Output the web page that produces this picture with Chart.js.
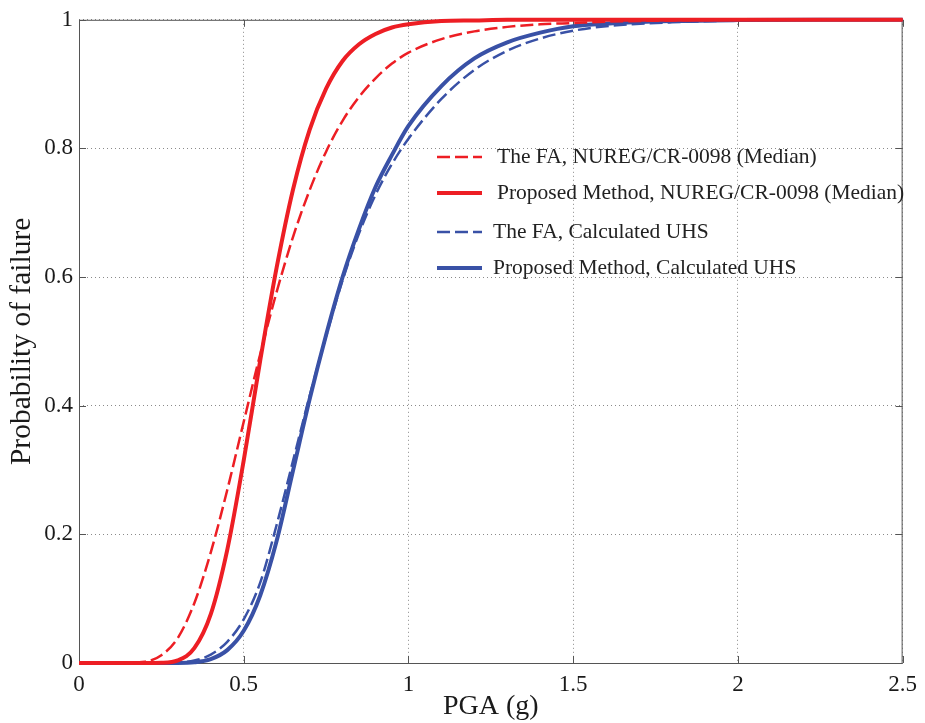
<!DOCTYPE html>
<html>
<head>
<meta charset="utf-8">
<script src="https://cdn.jsdelivr.net/npm/chart.js"></script>
<style>
  body { margin: 0; background: #fff; }
  #wrap { width: 925px; height: 723px; }
</style>
</head>
<body>
<div id="wrap"><canvas id="fragility" width="925" height="723"></canvas></div>
<script>
const pga = [0, 0.1, 0.2, 0.25, 0.3, 0.35, 0.4, 0.45, 0.5, 0.55, 0.6, 0.65, 0.7, 0.75, 0.8,
             0.85, 0.9, 0.95, 1.0, 1.1, 1.2, 1.3, 1.4, 1.5, 1.6, 1.8, 2.0, 2.25, 2.5];

// probability of failure for each curve
const faNureg   = [0, 0, 0.002, 0.012, 0.039, 0.093, 0.172, 0.269, 0.375, 0.48, 0.577, 0.663, 0.735, 0.795, 0.843,
                   0.88, 0.909, 0.932, 0.949, 0.97, 0.982, 0.989, 0.993, 0.995, 0.997, 0.999, 1, 1, 1];
const propNureg = [0, 0, 0, 0.0003, 0.004, 0.023, 0.076, 0.176, 0.315, 0.47, 0.615, 0.737, 0.829, 0.893, 0.936,
                   0.962, 0.978, 0.988, 0.993, 0.998, 0.999, 1, 1, 1, 1, 1, 1, 1, 1];
const faUhs     = [0, 0, 0, 0, 0.001, 0.004, 0.013, 0.033, 0.068, 0.125, 0.215, 0.315, 0.415, 0.508, 0.595,
                   0.668, 0.728, 0.776, 0.815, 0.877, 0.922, 0.952, 0.971, 0.983, 0.99, 0.996, 0.999, 1, 1];
const propUhs   = [0, 0, 0, 0, 0, 0.001, 0.006, 0.02, 0.05, 0.105, 0.19, 0.3, 0.41, 0.51, 0.6,
                   0.675, 0.74, 0.79, 0.835, 0.897, 0.94, 0.965, 0.98, 0.99, 0.994, 0.998, 0.9995, 1, 1];

const seriesNames = ['The FA, NUREG/CR-0098 (Median)', 'Proposed Method, NUREG/CR-0098 (Median)',
                     'The FA, Calculated UHS', 'Proposed Method, Calculated UHS'];
const xTicks = [0, 0.5, 1, 1.5, 2, 2.5];
const yTicks = [0, 0.2, 0.4, 0.6, 0.8, 1];

const RED = 'rgb(237,30,36)';
const BLUE = 'rgb(57,81,166)';
const serif = '"Liberation Serif", "DejaVu Serif", serif';

function pts(ys) {
    return pga.map((x, i) => ({ x: x, y: ys[i] }));
}

function lineSet(label, ys, color, dashed) {
    return {
        label: label,
        data: pts(ys),
        borderColor: color,
        backgroundColor: color,
        borderWidth: dashed ? 2.5 : 4,
        borderDash: dashed ? [13, 5] : [],
        pointRadius: 0,
        cubicInterpolationMode: 'monotone',
        fill: false,
        clip: 5
    };
}

// frame, inward ticks and a legend sitting inside the axes like the original
const framePlugin = {
    id: 'frame',
    beforeDatasetsDraw(chart) {
        const { ctx, chartArea: a, scales: { x, y } } = chart;
        ctx.save();
        ctx.strokeStyle = '#555';
        ctx.lineWidth = 1;
        ctx.strokeRect(a.left + 0.5, a.top + 0.5, a.right - a.left - 1, a.bottom - a.top);
        ctx.beginPath();
        xTicks.forEach(v => {
            const px = Math.round(x.getPixelForValue(v)) + 0.5;
            ctx.moveTo(px, a.bottom); ctx.lineTo(px, a.bottom - 7);
            ctx.moveTo(px, a.top); ctx.lineTo(px, a.top + 7);
        });
        yTicks.forEach(v => {
            const py = Math.round(y.getPixelForValue(v)) + 0.5;
            ctx.moveTo(a.left, py); ctx.lineTo(a.left + 7, py);
            ctx.moveTo(a.right, py); ctx.lineTo(a.right - 7, py);
        });
        ctx.stroke();
        ctx.restore();
    },
    afterDatasetsDraw(chart) {
        const { ctx } = chart;
        const rows = [157, 193, 232, 268];
        const textX = [497, 497, 493, 493];
        ctx.save();
        ctx.font = '21.5px ' + serif;
        ctx.textBaseline = 'middle';
        ctx.fillStyle = '#222';
        chart.data.datasets.forEach((ds, i) => {
            ctx.strokeStyle = ds.borderColor;
            ctx.lineWidth = ds.borderWidth;
            ctx.setLineDash(ds.borderDash);
            ctx.beginPath();
            ctx.moveTo(437, rows[i]);
            ctx.lineTo(482, rows[i]);
            ctx.stroke();
            ctx.setLineDash([]);
            ctx.fillText(ds.label, textX[i], rows[i]);
        });
        ctx.restore();
    }
};

new Chart(document.getElementById('fragility'), {
    type: 'line',
    data: {
        datasets: [
            lineSet(seriesNames[0], faNureg, RED, true),
            lineSet(seriesNames[1], propNureg, RED, false),
            lineSet(seriesNames[2], faUhs, BLUE, true),
            lineSet(seriesNames[3], propUhs, BLUE, false)
        ]
    },
    options: {
        responsive: false,
        animation: false,
        layout: { padding: { top: 18, right: 18, bottom: 0, left: 0 } },
        plugins: {
            legend: { display: false },
            tooltip: { enabled: false }
        },
        scales: {
            x: {
                type: 'linear',
                min: 0,
                max: 2.5,
                afterBuildTicks: s => { s.ticks = xTicks.map(v => ({ value: v })); },
                afterFit: s => { s.height = 60; },
                grid: { color: '#8a8a8a', lineWidth: 1, drawTicks: false },
                border: { display: false, dash: [1, 3] },
                ticks: {
                    padding: 8,
                    color: '#1a1a1a',
                    font: { family: serif, size: 23 },
                    maxRotation: 0,
                    callback: v => String(v)
                },
                title: {
                    display: true,
                    text: 'PGA (g)',
                    color: '#1a1a1a',
                    font: { family: serif, size: 28 },
                    padding: { top: 0, bottom: 0 }
                }
            },
            y: {
                type: 'linear',
                min: 0,
                max: 1,
                afterBuildTicks: s => { s.ticks = yTicks.map(v => ({ value: v })); },
                afterFit: s => { s.width = 79; },
                grid: { color: '#8a8a8a', lineWidth: 1, drawTicks: false },
                border: { display: false, dash: [1, 3] },
                ticks: {
                    padding: 6,
                    color: '#1a1a1a',
                    font: { family: serif, size: 23 },
                    callback: v => String(v)
                },
                title: {
                    display: true,
                    text: 'Probability of failure',
                    color: '#1a1a1a',
                    font: { family: serif, size: 29.5 },
                    padding: { top: 5, bottom: 0 }
                }
            }
        }
    },
    plugins: [framePlugin]
});
</script>
</body>
</html>
